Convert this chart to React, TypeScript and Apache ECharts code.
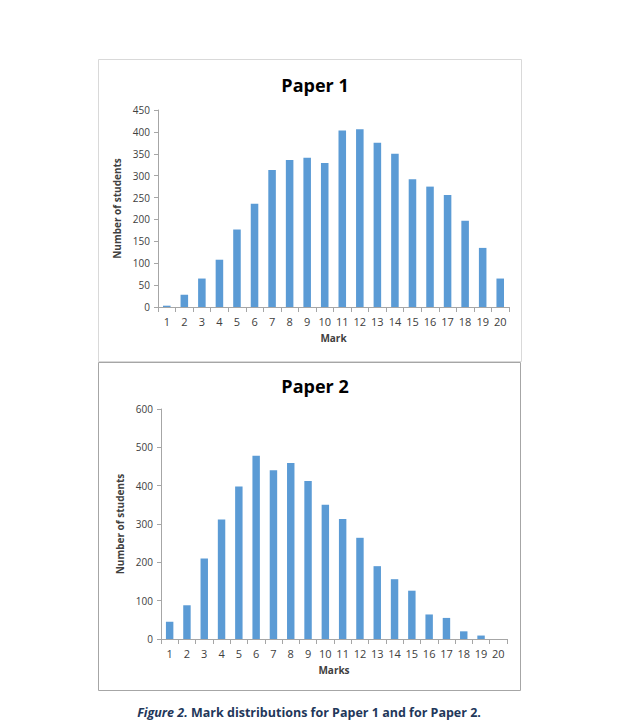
import React, { useEffect, useRef } from "react";
import * as echarts from "echarts";

const marks = ["1","2","3","4","5","6","7","8","9","10","11","12","13","14","15","16","17","18","19","20"];
const paper1 = [3, 28, 65, 108, 177, 236, 313, 336, 341, 329, 403, 406, 375, 350, 292, 275, 256, 197, 135, 65];
const paper2 = [45, 88, 210, 312, 398, 478, 440, 459, 412, 350, 313, 264, 190, 156, 126, 64, 55, 20, 9, 0];

const FONT = "'Open Sans', 'Liberation Sans', sans-serif";
const BAR = "#5b9bd5";
const AXIS = "#a6a6a6";
const LABEL = "#404040";

export default function App() {
  const ref = useRef<HTMLDivElement>(null);
  useEffect(() => {
    document.body.style.margin = "0";
    const chart = echarts.init(ref.current!, null, { renderer: "svg" });
    const xAxisBase = (name: string, gridIndex: number) => ({
      type: "category",
      gridIndex,
      data: marks,
      name,
      nameLocation: "middle",
      nameGap: 26,
      nameTextStyle: { fontFamily: FONT, fontWeight: "bold", fontSize: 10, color: LABEL },
      axisLine: { lineStyle: { color: AXIS, width: 1 } },
      axisTick: { show: true, length: 5, lineStyle: { color: AXIS } },
      axisLabel: { fontFamily: FONT, fontSize: 11, color: LABEL, margin: 9, interval: 0 },
    });
    const yAxisBase = (max: number, interval: number, gridIndex: number) => ({
      type: "value",
      gridIndex,
      min: 0,
      max,
      interval,
      name: "Number of students",
      nameLocation: "middle",
      nameGap: 33,
      nameTextStyle: { fontFamily: FONT, fontWeight: "bold", fontSize: 10, color: LABEL },
      axisLine: { show: true, lineStyle: { color: AXIS, width: 1 } },
      axisTick: { show: true, length: 4, lineStyle: { color: AXIS } },
      splitLine: { show: false },
      axisLabel: { fontFamily: FONT, fontSize: 10, color: LABEL, margin: 8 },
    });
    chart.setOption({
      animation: false,
      backgroundColor: "#ffffff",
      title: [
        {
          text: "Paper 1",
          left: 310,
          top: 71,
          textAlign: "center",
          textStyle: { fontFamily: FONT, fontWeight: "bold", fontSize: 18, color: "#000" },
        },
        {
          text: "Paper 2",
          left: 310,
          top: 372,
          textAlign: "center",
          textStyle: { fontFamily: FONT, fontWeight: "bold", fontSize: 18, color: "#000" },
        },
      ],
      grid: [
        { left: 158, top: 110, width: 351, height: 197, containLabel: false },
        { left: 161, top: 409, width: 346, height: 230, containLabel: false },
      ],
      xAxis: [xAxisBase("Mark", 0), xAxisBase("Marks", 1)],
      yAxis: [yAxisBase(450, 50, 0), yAxisBase(600, 100, 1)],
      series: [
        {
          type: "bar",
          xAxisIndex: 0,
          yAxisIndex: 0,
          data: paper1,
          barWidth: "43%",
          itemStyle: { color: BAR },
        },
        {
          type: "bar",
          xAxisIndex: 1,
          yAxisIndex: 1,
          data: paper2,
          barWidth: "43%",
          itemStyle: { color: BAR },
        },
      ],
      graphic: [
        {
          type: "rect",
          shape: { x: 98.5, y: 59.5, width: 423, height: 302 },
          style: { fill: "none", stroke: "#d9d9d9", lineWidth: 1 },
          silent: true,
        },
        {
          type: "rect",
          shape: { x: 98.5, y: 362.5, width: 422, height: 328 },
          style: { fill: "none", stroke: "#a6a6a6", lineWidth: 1 },
          silent: true,
        },
        {
          type: "text",
          x: 309,
          y: 712,
          style: {
            text: "{i|Figure 2.} Mark distributions for Paper 1 and for Paper 2.",
            fontFamily: FONT,
            fontWeight: "bold",
            fontSize: 12.5,
            fill: "#22375a",
            align: "center",
            verticalAlign: "middle",
            rich: {
              i: { fontStyle: "italic", fontWeight: "bold", fontSize: 12.5, fontFamily: FONT, fill: "#22375a" },
            },
          },
        },
      ],
    });
    return () => chart.dispose();
  }, []);
  return <div ref={ref} style={{ position: "absolute", left: 0, top: 0, width: 639, height: 723 }} />;
}
